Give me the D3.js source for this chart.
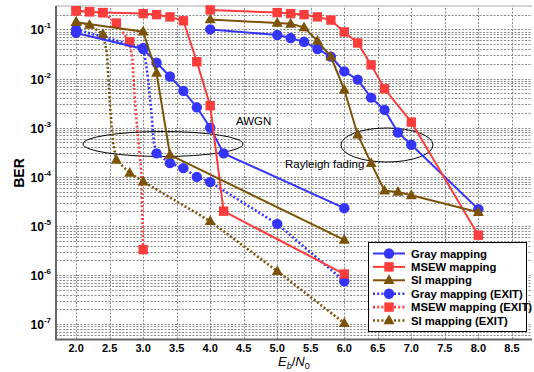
<!DOCTYPE html>
<html>
<head>
<meta charset="utf-8">
<script src="https://cdn.jsdelivr.net/npm/d3@7"></script>
<style>
  body { margin: 0; background: #fff; }
  text { font-family: "Liberation Sans", Helvetica, Arial, sans-serif; }
</style>
</head>
<body>
<div id="chart"></div>
<script>
// [Eb/N0, BER, marker?]  (third entry 0 = curve point without marker)
var grayAwgn = [[2.0,0.085],[3.0,0.04],[3.2,0.021],[3.4,0.011],[3.6,0.0056],[3.8,0.0026],[4.0,0.001],[4.2,3e-4],[6.0,2.3e-5]];
var msewAwgn = [[2.0,0.24],[2.2,0.23],[2.4,0.22],[3.0,0.21],[3.2,0.2],[3.4,0.18],[3.6,0.15],[3.8,0.022],[4.0,0.0028],[4.2,2e-5],[6.0,1.05e-6]];
var siAwgn = [[2.0,0.14],[3.0,0.09],[3.2,0.013],[3.4,2.8e-4],[6.0,5.2e-6]];

var grayRay = [[4.0,0.1],[5.0,0.077],[5.2,0.067],[5.4,0.056],[5.6,0.04],[5.8,0.028],[6.0,0.014],[6.2,0.0095],[6.4,0.0041],[6.6,0.0023],[6.8,8e-4],[7.0,4.5e-4],[8.0,2.2e-5]];
var msewRay = [[4.0,0.25],[5.0,0.22],[5.2,0.21],[5.4,0.2],[5.6,0.18],[5.8,0.155],[6.0,0.089],[6.2,0.053],[6.4,0.019],[6.6,0.0062],[7.0,0.0013],[8.0,6.5e-6]];
var siRay = [[4.0,0.16],[5.0,0.135],[5.2,0.13],[5.4,0.11],[5.6,0.058],[5.8,0.028],[6.0,0.0059],[6.2,7.2e-4],[6.4,1.9e-4],[6.6,5.2e-5],[6.8,4.9e-5],[7.0,4.2e-5],[8.0,1.9e-5]];

var grayExit = [[2.0,0.1],[3.0,0.042],[3.04,0.021,0],[3.07,0.011,0],[3.12,0.0023,0],[3.16,5e-4,0],[3.2,3e-4],[3.4,1.9e-4],[3.6,1.5e-4],[3.8,1e-4],[4.0,7.8e-5],[5.0,1.1e-5],[6.0,7.5e-7]];
var msewExit = [[2.0,0.24],[2.2,0.23],[2.4,0.22],[2.6,0.135],[2.8,0.056],[2.84,0.024,0],[2.87,0.005,0],[2.91,0.001,0],[2.97,1.4e-4,0],[3.0,3.3e-6]];
var siExit = [[2.0,0.14],[2.2,0.123],[2.4,0.08],[2.46,0.033,0],[2.48,0.011,0],[2.51,0.0023,0],[2.55,5e-4,0],[2.6,2.2e-4],[2.8,1.2e-4],[3.0,8e-5],[4.0,1.25e-5],[5.0,1.2e-6],[6.0,1.05e-7]];

var xTicks = [2.0,2.5,3.0,3.5,4.0,4.5,5.0,5.5,6.0,6.5,7.0,7.5,8.0,8.5];
var yExps = [-1,-2,-3,-4,-5,-6,-7];
var legendLabels = ["Gray mapping","MSEW mapping","SI mapping","Gray mapping (EXIT)","MSEW mapping (EXIT)","SI mapping (EXIT)"];

var w_width = 534, w_height = 372;
var blue = "#3434fb", red = "#fd3c3c", brown = "#7c5206";

var svg = d3.select("#chart").append("svg").attr("width", w_width).attr("height", w_height);

var x = d3.scaleLinear().domain([1.7, 8.8]).range([56, 532]),
    y = d3.scaleLog().domain([5e-8, 0.3]).range([339, 6]);

// grid
var minor = [];
for (var e = -8; e <= -1; e++) for (var m = 1; m <= 9; m++) {
  var v = m * Math.pow(10, e);
  if (v >= 5e-8 && v <= 0.3) minor.push(v);
}
var grid = svg.append("g").attr("stroke", "#8a8a8a").attr("stroke-width", 1).attr("stroke-dasharray", "2,1.5");
grid.selectAll("line.h").data(minor).enter().append("line")
    .attr("x1", x.range()[0]).attr("x2", x.range()[1])
    .attr("y1", function(d) { return Math.round(y(d)) + 0.5; })
    .attr("y2", function(d) { return Math.round(y(d)) + 0.5; });
grid.selectAll("line.v").data(xTicks).enter().append("line")
    .attr("y1", y.range()[0]).attr("y2", y.range()[1])
    .attr("x1", function(d) { return Math.round(x(d)) + 0.5; })
    .attr("x2", function(d) { return Math.round(x(d)) + 0.5; });

// frame
svg.append("line").attr("x1", 56).attr("x2", 532).attr("y1", 6).attr("y2", 6).attr("stroke", "#aaa").attr("stroke-width", 1);
svg.append("path").attr("d", "M56,6V339.5H532").attr("fill", "none").attr("stroke", "#666").attr("stroke-width", 2);

// x tick labels
svg.selectAll("text.xt").data(xTicks).enter().append("text")
    .attr("x", function(d) { return x(d); }).attr("y", 352)
    .attr("text-anchor", "middle").attr("font-size", 11).attr("font-weight", "bold")
    .text(d3.format(".1f"));

// y tick labels
var yt = svg.selectAll("text.yt").data(yExps).enter().append("text")
    .attr("x", 51).attr("y", function(d) { return y(Math.pow(10, d)) + 5; })
    .attr("text-anchor", "end").attr("font-size", 12).attr("font-weight", "bold");
yt.append("tspan").text("10");
yt.append("tspan").attr("dy", -6).attr("font-size", 8).text(function(d) { return "-" + Math.abs(d); });

// axis titles
svg.append("text").attr("transform", "translate(24,173) rotate(-90)")
    .attr("text-anchor", "middle").attr("font-size", 14).attr("font-weight", "bold").text("BER");
var xl = svg.append("text").attr("x", 278).attr("y", 366)
    .attr("font-family", "'Liberation Serif', 'DejaVu Serif', serif").attr("font-size", 13).attr("font-style", "italic");
xl.append("tspan").text("E");
xl.append("tspan").attr("dy", 3).attr("font-size", 9).text("b");
xl.append("tspan").attr("dy", -3).attr("font-style", "normal").text("/");
xl.append("tspan").text("N");
xl.append("tspan").attr("dy", 3).attr("font-size", 9).attr("font-style", "normal").text("0");

// ellipses + annotations
svg.append("ellipse").attr("cx", 163).attr("cy", 144).attr("rx", 80).attr("ry", 12.5)
    .attr("fill", "none").attr("stroke", "#000").attr("stroke-width", 1);
svg.append("ellipse").attr("cx", 387).attr("cy", 145).attr("rx", 46).attr("ry", 17)
    .attr("fill", "none").attr("stroke", "#000").attr("stroke-width", 1);
svg.append("text").attr("x", 236).attr("y", 125).attr("font-size", 11.5).text("AWGN");
svg.append("text").attr("x", 285).attr("y", 168).attr("font-size", 11.5).text("Rayleigh fading");

var line = d3.line().x(function(d) { return x(d[0]); }).y(function(d) { return y(d[1]); });

function marker(g, shape, color, cx, cy) {
  if (shape === "circle") {
    g.append("circle").attr("cx", cx).attr("cy", cy).attr("r", 5.2).attr("fill", color);
  } else if (shape === "square") {
    g.append("rect").attr("x", cx - 4.7).attr("y", cy - 4.7).attr("width", 9.4).attr("height", 9.4).attr("fill", color);
  } else {
    g.append("path").attr("d", "M" + cx + "," + (cy - 6) + "L" + (cx + 5.5) + "," + (cy + 3.8) + "L" + (cx - 5.5) + "," + (cy + 3.8) + "Z").attr("fill", color);
  }
}

function series(data, color, shape, dotted) {
  var g = svg.append("g");
  g.append("path").datum(data).attr("d", line)
      .attr("fill", "none").attr("stroke", color)
      .attr("stroke-width", dotted ? 2.6 : 2)
      .attr("stroke-dasharray", dotted ? "2,2.2" : null);
  data.forEach(function(d) {
    if (d[2] === 0) return;
    marker(g, shape, color, x(d[0]), y(d[1]));
  });
}

series(grayExit, blue, "circle", true);
series(msewExit, red, "square", true);
series(siExit, brown, "triangle", true);
series(grayAwgn, blue, "circle", false);
series(grayRay, blue, "circle", false);
series(msewAwgn, red, "square", false);
series(msewRay, red, "square", false);
series(siAwgn, brown, "triangle", false);
series(siRay, brown, "triangle", false);

// legend
var lg = svg.append("g");
lg.append("rect").attr("x", 368.5).attr("y", 242.5).attr("width", 158).attr("height", 89)
    .attr("fill", "#fff").attr("stroke", "#000").attr("stroke-width", 1);
var lcol = [blue, red, brown, blue, red, brown],
    lshape = ["circle", "square", "triangle", "circle", "square", "triangle"];
legendLabels.forEach(function(t, i) {
  var ly = 253.5 + i * 13.4;
  lg.append("line").attr("x1", 373).attr("x2", 405).attr("y1", ly).attr("y2", ly)
      .attr("stroke", lcol[i]).attr("stroke-width", i < 3 ? 2 : 2.6)
      .attr("stroke-dasharray", i < 3 ? null : "2,2.2");
  marker(lg, lshape[i], lcol[i], 389, ly);
  lg.append("text").attr("x", 411).attr("y", ly + 4).attr("font-size", 11.3).attr("font-weight", "bold").text(t);
});
</script>
</body>
</html>
